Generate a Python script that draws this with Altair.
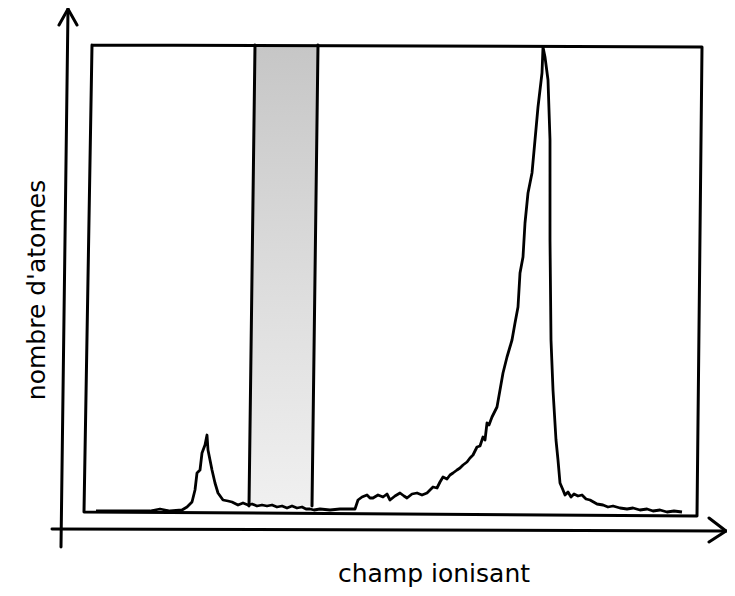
import altair as alt
import pandas as pd

# ---- spectrum (champ ionisant, nombre d'atomes), arbitrary units
champ = [6, 30, 60, 70, 80, 92, 97, 102, 105, 107, 110, 112, 115, 117, 118, 120, 122, 125, 128, 133,
         138, 142, 148, 153, 158, 162, 167, 172, 177, 182, 187, 192, 197, 202, 207, 212, 216, 220, 224, 230,
         240, 250, 260, 265, 268, 272, 277, 280, 283, 288, 293, 297, 300, 305, 310, 314, 317, 322, 327, 332,
         337, 340, 343, 347, 350, 353, 357, 360, 363, 367, 370, 373, 377, 380, 383, 387, 390, 393, 395, 397,
         399, 402, 407, 410, 413, 417, 422, 425, 428, 430, 433, 435, 438, 442, 445, 448, 452, 453, 455, 458,
         459, 460, 460, 461, 463, 466, 468, 470, 473, 475, 478, 481, 484, 488, 492, 496, 500, 507, 513, 518,
         523, 530, 537, 543, 550, 557, 563, 570, 577, 584, 592]
atomes = [2, 2, 2, 4, 2, 3, 6, 11, 23, 40, 43, 60, 68, 78, 63, 53, 43, 30, 20, 13,
          12, 11, 8, 10, 8, 9, 7, 8, 7, 8, 6, 7, 5, 7, 5, 6, 4, 4, 3, 4,
          3, 4, 4, 4, 13, 16, 18, 15, 15, 18, 16, 19, 13, 17, 20, 17, 15, 19, 20, 18,
          20, 23, 26, 25, 31, 36, 34, 38, 40, 43, 45, 48, 51, 55, 58, 66, 67, 76, 73, 90,
          88, 96, 106, 123, 140, 156, 173, 190, 206, 240, 256, 290, 320, 340, 373, 406, 440, 466, 456, 433,
          403, 373, 273, 173, 123, 73, 53, 30, 23, 18, 21, 16, 19, 17, 18, 14, 13, 9, 8, 6,
          7, 5, 4, 5, 3, 4, 2, 3, 1, 2, 1]

# ---- shaded window (stippled band), slightly skewed as in the scan
band_atomes = [7, 468]
band_left = [159, 165]
band_right = [222, 228]

# ---- frame corners (scan is slightly rotated)
frame_champ = [2, 612, 607, -6, 2]
frame_atomes = [468, 466, -3, 1, 468]

# ---- axis arrows
yaxis_champ = [-29, -22]
yaxis_atomes = [-34, 504]
yhead_champ = [-31, -22, -13]
yhead_atomes = [488, 504, 488]
xaxis_champ = [-38, 636]
xaxis_atomes = [-16, -18]
xhead_champ = [619, 636, 619]
xhead_atomes = [-5, -18, -29]

x_title = "champ ionisant"
y_title = "nombre d'atomes"

X_DOMAIN = [-82, 637]
Y_DOMAIN = [-75, 505]
xs = alt.Scale(domain=X_DOMAIN, nice=False, zero=False)
ys = alt.Scale(domain=Y_DOMAIN, nice=False, zero=False)

def path(name, xv, yv):
    return pd.DataFrame({"seg": name, "i": list(range(len(xv))), "x": xv, "y": yv})

lines_df = pd.concat([
    path("frame", frame_champ, frame_atomes),
    path("yaxis", yaxis_champ, yaxis_atomes),
    path("yhead", yhead_champ, yhead_atomes),
    path("xaxis", xaxis_champ, xaxis_atomes),
    path("xhead", xhead_champ, xhead_atomes),
    path("bandL", band_left, band_atomes),
    path("bandR", band_right, band_atomes),
], ignore_index=True)

band_df = pd.DataFrame({"y": band_atomes, "l": band_left, "r": band_right})
curve_df = pd.DataFrame({"x": champ, "y": atomes, "i": list(range(len(champ)))})

band = alt.Chart(band_df).mark_area(
    orient="horizontal",
    color=alt.Gradient(
        gradient="linear",
        stops=[alt.GradientStop(color="#c6c6c6", offset=0),
               alt.GradientStop(color="#dcdcdc", offset=0.5),
               alt.GradientStop(color="#f0f0f0", offset=1)],
        x1=0, x2=0, y1=0, y2=1),
).encode(
    y=alt.Y("y:Q", scale=ys, axis=None),
    x=alt.X("l:Q", scale=xs, axis=None),
    x2="r:Q",
)

lines = alt.Chart(lines_df).mark_line(color="black", strokeWidth=3, strokeCap="round", strokeJoin="round").encode(
    x=alt.X("x:Q", scale=xs, axis=None),
    y=alt.Y("y:Q", scale=ys, axis=None),
    detail="seg:N",
    order="i:Q",
)

curve = alt.Chart(curve_df).mark_line(color="black", strokeWidth=2.8, strokeJoin="round").encode(
    x=alt.X("x:Q", scale=xs, axis=None),
    y=alt.Y("y:Q", scale=ys, axis=None),
    order="i:Q",
)

titles_df = pd.DataFrame({"t": [x_title], "x": [344], "y": [-69]})
xt = alt.Chart(titles_df).mark_text(font="DejaVu Sans", fontSize=25, baseline="alphabetic", align="center",
                                    color="black").encode(
    x=alt.X("x:Q", scale=xs, axis=None), y=alt.Y("y:Q", scale=ys, axis=None), text="t:N")

ytitle_df = pd.DataFrame({"t": [y_title], "x": [-45], "y": [223]})
yt = alt.Chart(ytitle_df).mark_text(font="DejaVu Sans", fontSize=25, baseline="alphabetic", align="center",
                                    angle=270, color="black").encode(
    x=alt.X("x:Q", scale=xs, axis=None), y=alt.Y("y:Q", scale=ys, axis=None), text="t:N")

chart = alt.layer(band, lines, curve, xt, yt).properties(
    width=719, height=580, padding=0,
    autosize=alt.AutoSizeParams(type="none"),
    background="white",
).configure_view(stroke=None)

chart.save("out.html", embed_options={"renderer": "svg", "actions": False})
